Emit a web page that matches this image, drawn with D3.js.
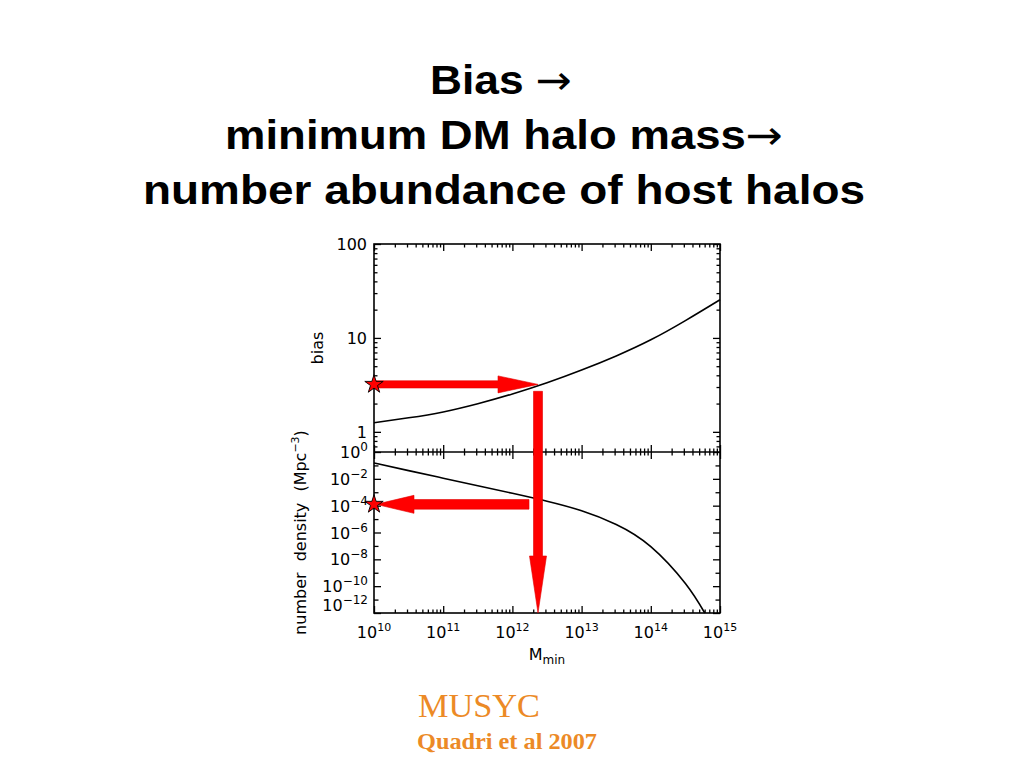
<!DOCTYPE html>
<html>
<head>
<meta charset="utf-8">
<script src="https://cdn.jsdelivr.net/npm/d3@7"></script>
<style>
  html, body { margin: 0; padding: 0; background: #ffffff; }
  svg { display: block; }
</style>
</head>
<body>
<svg id="chart" width="1024" height="768"></svg>
<script>
// ---------------- data ----------------
const titleLines = ["Bias ", "minimum DM halo mass", "number abundance of host halos"];
const logMass = [10, 10.5, 11, 11.5, 12, 12.5, 13, 13.5, 14, 14.5, 15];
const biasValues = [1.25, 1.41, 1.63, 1.99, 2.53, 3.33, 4.55, 6.43, 9.55, 15.3, 25.5];
const densityLogMass = [10, 10.5, 11, 11.5, 12, 12.5, 13, 13.5, 14, 14.5, 14.78];
const densityLogValues = [-0.82, -1.39, -1.95, -2.51, -3.08, -3.67, -4.38, -5.40, -7.05, -9.8, -12];
const xTickExponents = [10, 11, 12, 13, 14, 15];
const biasTickLabels = ["1", "10", "100"];
const densityTickExponents = [0, -2, -4, -6, -8, -10, -12];
// arrow markers
const targetLogMass = 12.37;
const targetBias = 3.2;
const arrowTopBias = 2.7;
const observedLogDensity = -3.9;
const densityArrowStartLogMass = 12.24;
const footerLines = ["MUSYC", "Quadri et al 2007"];

// ---------------- layout ----------------
const svg = d3.select("#chart");
const pLeft = 374, pRight = 720, pTop = 244, pMid = 452, pBottom = 613;

const x = d3.scaleLog().domain([1e10, 1e15]).range([pLeft, pRight]);
const yTop = d3.scaleLog().domain([0.61, 100]).range([pMid, pTop]);
const yBot = d3.scaleLog().domain([1e-12, 1]).range([pBottom, pMid]);

// ---------------- title ----------------
const titleWidths = [142, 558, 722];
const titleCenters = [501, 504, 504];
const titleBaselines = [94, 149, 204];
const title = svg.append("g")
  .attr("font-family", "Liberation Sans, Arial, sans-serif")
  .attr("font-weight", "bold")
  .attr("font-size", 41)
  .attr("fill", "#000");
titleLines.forEach((t, i) => {
  const txt = title.append("text")
    .attr("x", titleCenters[i]).attr("y", titleBaselines[i])
    .attr("text-anchor", "middle")
    .attr("textLength", titleWidths[i])
    .attr("lengthAdjust", "spacingAndGlyphs");
  txt.append("tspan").text(t);
  if (i < 2) txt.append("tspan").attr("font-weight", "normal")
    .attr("font-family", "DejaVu Sans, sans-serif").attr("font-size", 40).text("\u2192");
});

// ---------------- axes helpers ----------------
const plot = svg.append("g");
const tickStyle = sel => {
  sel.select(".domain").remove();
  sel.selectAll("line").attr("stroke", "#000").attr("stroke-width", 1.3);
  sel.selectAll("text").remove();
};
function minorLog(lo, hi) {
  const out = [];
  for (let e = Math.floor(Math.log10(lo)); e <= Math.ceil(Math.log10(hi)); e++) {
    for (let m = 1; m <= 9; m++) {
      const v = m * Math.pow(10, e);
      if (v >= lo * 0.999 && v <= hi * 1.001) out.push(v);
    }
  }
  return out;
}
const xMajor = xTickExponents.map(e => Math.pow(10, e));
const xMinor = minorLog(1e10, 1e15).filter(v => !xMajor.some(m => Math.abs(m - v) / v < 1e-6));

// x ticks: top of top panel, boundary (both ways), bottom of lower panel
[[pTop, d3.axisTop], [pMid, d3.axisBottom], [pMid, d3.axisTop], [pBottom, d3.axisBottom]].forEach(([yy, ax]) => {
  plot.append("g").attr("transform", `translate(0,${yy})`)
    .call(ax(x).tickValues(xMajor).tickSize(-7).tickFormat("")).call(tickStyle);
  plot.append("g").attr("transform", `translate(0,${yy})`)
    .call(ax(x).tickValues(xMinor).tickSize(-3.5).tickFormat("")).call(tickStyle);
});

// top panel y ticks
const bMajor = [1, 10, 100];
const bMinor = minorLog(0.61, 100).filter(v => !bMajor.includes(v));
[[pLeft, d3.axisLeft], [pRight, d3.axisRight]].forEach(([xx, ax]) => {
  plot.append("g").attr("transform", `translate(${xx},0)`)
    .call(ax(yTop).tickValues(bMajor).tickSize(-7).tickFormat("")).call(tickStyle);
  plot.append("g").attr("transform", `translate(${xx},0)`)
    .call(ax(yTop).tickValues(bMinor).tickSize(-3.5).tickFormat("")).call(tickStyle);
});

// lower panel y ticks
const dMajor = densityTickExponents.map(e => Math.pow(10, e));
const dMinor = d3.range(-11, 0, 2).map(e => Math.pow(10, e));
[[pLeft, d3.axisLeft], [pRight, d3.axisRight]].forEach(([xx, ax]) => {
  plot.append("g").attr("transform", `translate(${xx},0)`)
    .call(ax(yBot).tickValues(dMajor).tickSize(-7).tickFormat("")).call(tickStyle);
  plot.append("g").attr("transform", `translate(${xx},0)`)
    .call(ax(yBot).tickValues(dMinor).tickSize(-4.5).tickFormat("")).call(tickStyle);
});

// frames
plot.append("rect").attr("x", pLeft).attr("y", pTop).attr("width", pRight - pLeft).attr("height", pBottom - pTop)
  .attr("fill", "none").attr("stroke", "#000").attr("stroke-width", 1.6);
plot.append("line").attr("x1", pLeft).attr("x2", pRight).attr("y1", pMid).attr("y2", pMid)
  .attr("stroke", "#000").attr("stroke-width", 1.6);

// ---------------- tick labels ----------------
const lab = svg.append("g").attr("font-family", "DejaVu Sans, sans-serif").attr("fill", "#000");
biasTickLabels.forEach(t => {
  lab.append("text").attr("x", pLeft - 7).attr("y", yTop(+t) + 6)
    .attr("text-anchor", "end").attr("font-size", 16).text(t);
});
densityTickExponents.forEach((e, i) => {
  let yy = yBot(Math.pow(10, e)) + 6;
  if (i === densityTickExponents.length - 1) yy -= 8; // lowest label lifted off the corner
  const t = lab.append("text").attr("x", pLeft - 6).attr("y", yy)
    .attr("text-anchor", "end").attr("font-size", 16);
  t.append("tspan").text("10");
  t.append("tspan").attr("font-size", 12).attr("dy", -7).text(e === 0 ? "0" : "\u2212" + Math.abs(e));
});
xTickExponents.forEach(e => {
  const t = lab.append("text").attr("x", x(Math.pow(10, e))).attr("y", pBottom + 25)
    .attr("text-anchor", "middle").attr("font-size", 16);
  t.append("tspan").text("10");
  t.append("tspan").attr("font-size", 11).attr("dy", -7).text(String(e));
});

// axis titles
lab.append("text").attr("transform", `translate(${pLeft - 51},${(pTop + pMid) / 2}) rotate(-90)`)
  .attr("text-anchor", "middle").attr("font-size", 16).text("bias");
const dt = lab.append("text").attr("transform", `translate(${pLeft - 68},${(pMid + pBottom) / 2}) rotate(-90)`)
  .attr("text-anchor", "middle").attr("font-size", 16).attr("word-spacing", 6);
dt.append("tspan").text("number density (Mpc");
dt.append("tspan").attr("font-size", 11).attr("dy", -7).text("\u22123");
dt.append("tspan").attr("dy", 7).text(")");
const mt = lab.append("text").attr("x", (pLeft + pRight) / 2).attr("y", pBottom + 47)
  .attr("text-anchor", "middle").attr("font-size", 16);
mt.append("tspan").text("M");
mt.append("tspan").attr("font-size", 12).attr("dy", 4).text("min");

// ---------------- curves ----------------
const biasLine = d3.line().x(d => x(Math.pow(10, d[0]))).y(d => yTop(d[1])).curve(d3.curveNatural);
plot.append("path").datum(logMass.map((m, i) => [m, biasValues[i]]))
  .attr("d", biasLine).attr("fill", "none").attr("stroke", "#000").attr("stroke-width", 1.6);
const densLine = d3.line().x(d => x(Math.pow(10, d[0]))).y(d => yBot(Math.pow(10, d[1]))).curve(d3.curveNatural);
plot.append("path").datum(densityLogMass.map((m, i) => [m, densityLogValues[i]]))
  .attr("d", densLine).attr("fill", "none").attr("stroke", "#000").attr("stroke-width", 1.6);

// ---------------- arrows ----------------
function arrowPath(x1, y1, x2, y2, hw, headLen, headHw) {
  const dx = x2 - x1, dy = y2 - y1, L = Math.hypot(dx, dy);
  const ux = dx / L, uy = dy / L, px = -uy, py = ux;
  const pts = [
    [0, -hw], [L - headLen, -hw], [L - headLen, -headHw], [L, 0],
    [L - headLen, headHw], [L - headLen, hw], [0, hw]
  ].map(([a, b]) => [x1 + ux * a + px * b, y1 + uy * a + py * b]);
  return "M" + pts.map(p => p.join(",")).join("L") + "Z";
}
const arrows = svg.append("g").attr("fill", "#ff0000").attr("stroke", "#e00000").attr("stroke-width", 0.6);
const tx = x(Math.pow(10, targetLogMass));
arrows.append("path").attr("d", arrowPath(x(1e10), yTop(targetBias), tx, yTop(targetBias), 3.6, 40, 8.5));
arrows.append("path").attr("d", arrowPath(tx, yTop(arrowTopBias), tx, yBot(1e-12), 4.5, 57, 8.5));
const obsY = yBot(Math.pow(10, observedLogDensity));
arrows.append("path").attr("d", arrowPath(x(Math.pow(10, densityArrowStartLogMass)), obsY, x(1e10) + 2, obsY, 4.8, 38, 9));

// stars
const star = d3.symbol().type(d3.symbolStar).size(105);
[[x(1e10), yTop(targetBias)], [x(1e10), obsY]].forEach(([sx, sy]) => {
  svg.append("path").attr("d", star()).attr("transform", `translate(${sx},${sy})`)
    .attr("fill", "#ff0000").attr("stroke", "#000").attr("stroke-width", 0.9);
});

// ---------------- footer ----------------
const foot = svg.append("g").attr("font-family", "Liberation Serif, Times New Roman, serif").attr("fill", "#EC8A26");
foot.append("text").attr("x", 418).attr("y", 717).attr("font-size", 34).attr("textLength", 122)
  .attr("lengthAdjust", "spacingAndGlyphs").text(footerLines[0]);
foot.append("text").attr("x", 417).attr("y", 749).attr("font-size", 24).attr("font-weight", "bold")
  .attr("textLength", 180).attr("lengthAdjust", "spacingAndGlyphs").text(footerLines[1]);
</script>
</body>
</html>
